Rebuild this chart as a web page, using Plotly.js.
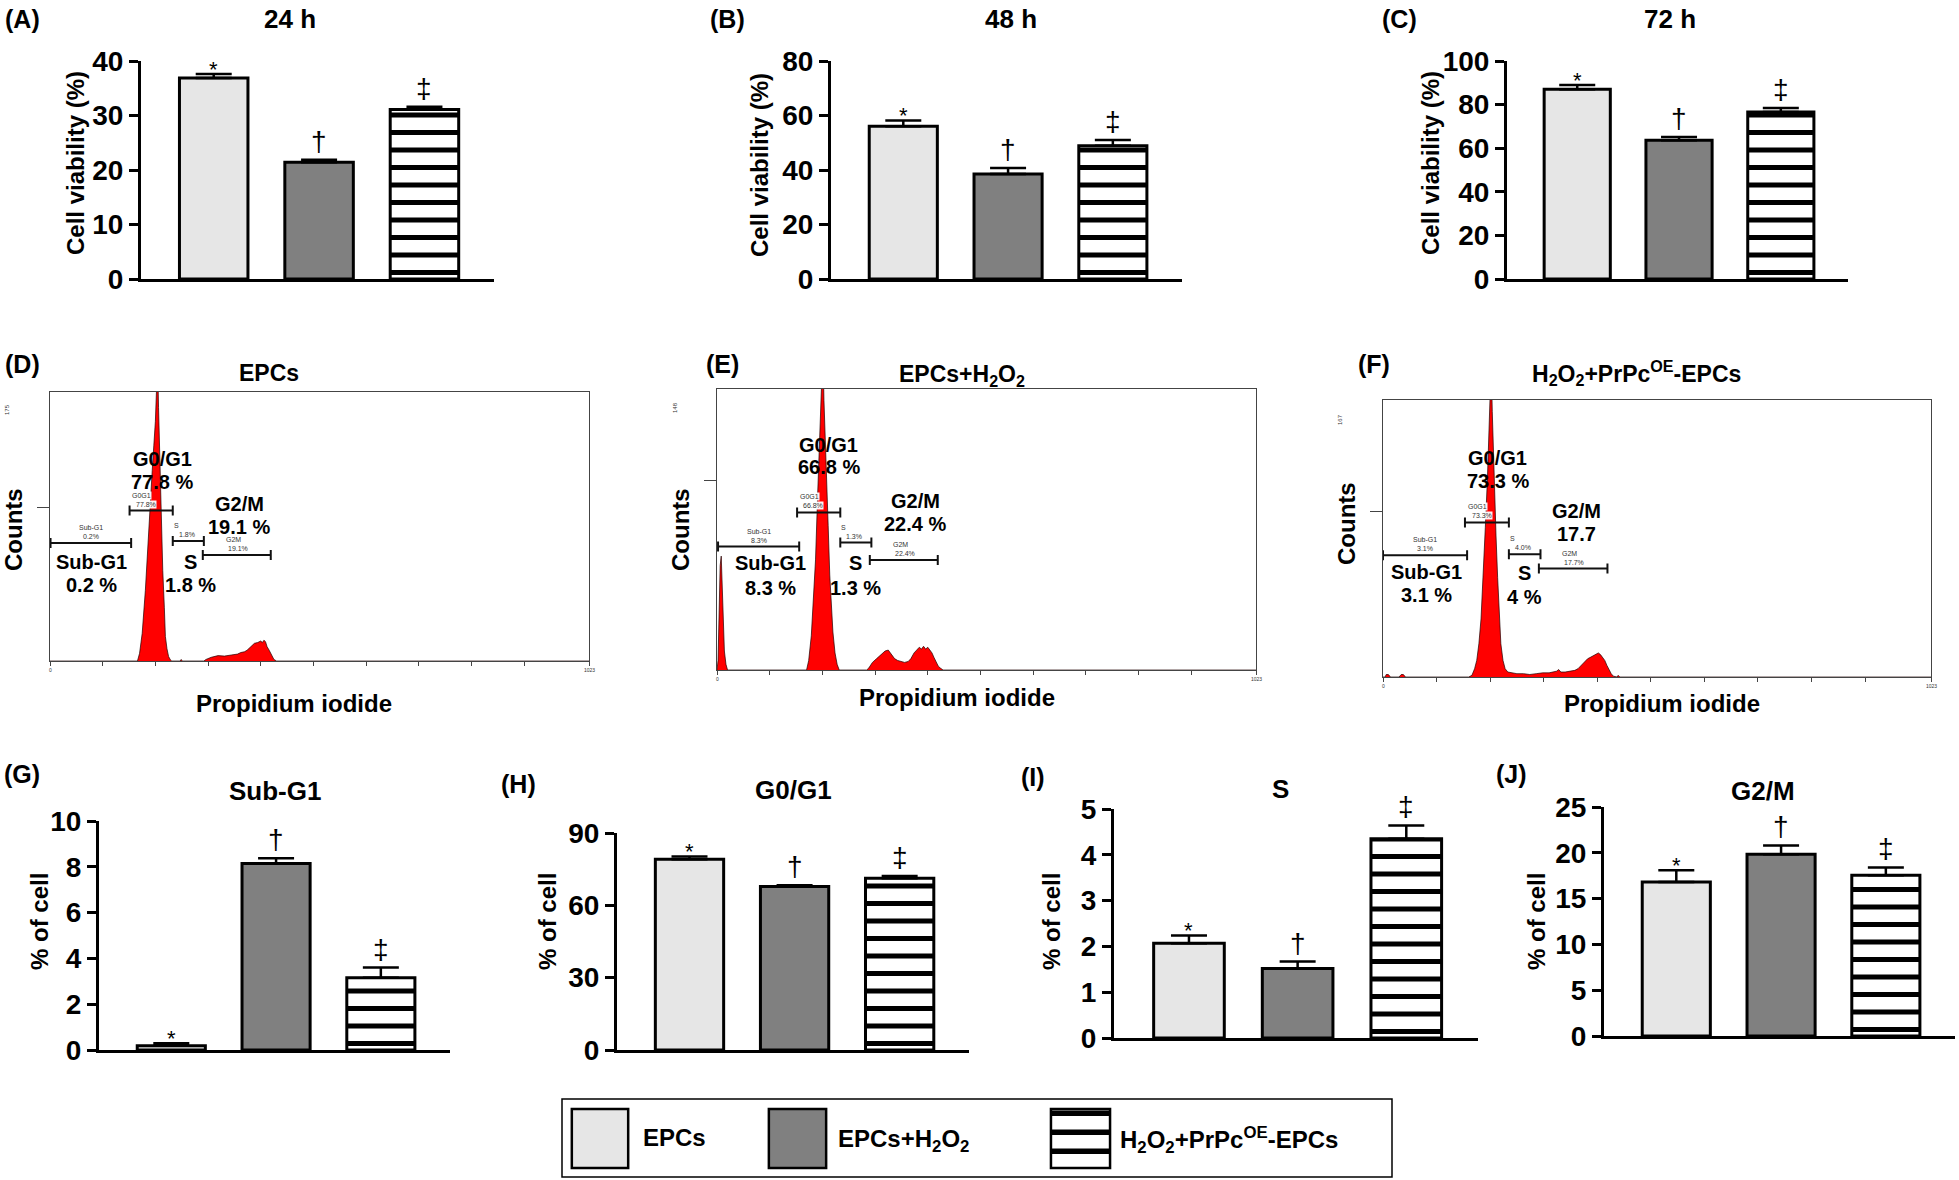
<!DOCTYPE html>
<html><head><meta charset="utf-8">
<script src="https://cdn.plot.ly/plotly-3.0.1.min.js"></script>
<style>html,body{margin:0;padding:0;background:#fff;}#chart{width:1959px;height:1180px;}</style>
</head><body><div id="chart"></div>
<script>
// ================= DATA =================
const groups = ['EPCs', 'EPCs+H<sub>2</sub>O<sub>2</sub>', 'H<sub>2</sub>O<sub>2</sub>+PrPc<sup>OE</sup>-EPCs'];
const sigMarks = ['*', '†', '‡'];

// Cell viability (%)
const viab24 = [36.9, 21.4, 31.1];   const viab24Err = [0.7, 0.5, 0.5];
const viab48 = [56.1, 38.5, 48.9];   const viab48Err = [2.1, 2.2, 2.1];
const viab72 = [87.0, 63.6, 76.6];   const viab72Err = [2.0, 1.5, 1.8];

// Cell cycle (% of cell)
const subG1 = [0.19, 8.14, 3.16];    const subG1Err = [0.10, 0.23, 0.44];
const g0g1  = [79.1, 67.8, 71.2];    const g0g1Err  = [1.2, 0.5, 1.0];
const sPhase = [2.07, 1.52, 4.35];   const sPhaseErr = [0.17, 0.15, 0.29];
const g2m   = [16.8, 19.85, 17.55];  const g2mErr   = [1.3, 0.95, 0.85];

// Flow cytometry histograms (channel, counts)
const histD_ch  = [0,166,170,175,181,187,191,194,197,200,202,204,206,209,212,214,217,219,222,225,228,231,247,249,251,292,296,306,319,331,344,356,362,369,374,378,383,388,394,400,403,406,409,412,416,419,422,425,430,1023];
const histD_cnt = [0,0,5,18,46,85,105,124,140,156,175,200,165,124,88,59,35,16,8,3,1,0,0,1,0,0,1,2.4,3.5,3.2,3.9,4.5,5.5,6,7,8.2,9.5,11.5,12,13,12,13.5,12.6,9.3,7,5,3,1,0,0];
const histE_ch  = [0,2,4,6,8,10,12,14,17,20,170,174,179,183,187,191,194,197,199,201,203,205,208,211,214,217,220,224,228,232,284,288,295,303,311,319,325,331,337,343,349,356,363,368,374,380,384,388,392,396,400,404,408,412,416,420,424,429,1023];
const histE_cnt = [0,5,30,55,60,45,25,10,3,0,0,5,18,35,58,92,115,135,150,170,142,128,100,76,50,32,20,9,3,0,0,1,4,6,8,10,10.5,8,6,5,4.5,4,4.5,6,9,11,12,11,12.5,11,12,10.5,9,6.5,4,2,1,0,0];
const histF_ch  = [0,4,6,10,14,18,30,34,38,42,46,160,166,171,175,179,183,187,191,195,198,200,202,204,206,208,211,214,217,220,224,228,233,240,250,262,274,286,298,310,318,324,328,332,340,350,358,364,370,376,382,388,394,398,402,406,410,414,418,422,426,430,434,437,439,442,1023];
const histF_cnt = [0,0,1.5,1.5,0,0,0,1.5,1.5,0,0,0,1,5,10,20,35,60,90,120,155,175,190,160,135,115,85,60,38,20,10,5,3,2.5,2,2,1.5,2,2.5,2.5,3,3.5,4.5,3,3,3.5,4,5,7,9.5,11,12,13,13.5,14.5,13.5,12,10,7,4.5,2,0.5,0,0,1,0,0];
const histMax = [175, 148, 167];

// Gates (channel start / end, level in counts): Sub-G1, G0G1, S, G2M
const gateNames = ['Sub-G1', 'G0G1', 'S', 'G2M'];
const phaseNames = ['Sub-G1', 'G0/G1', 'S', 'G2/M'];
const gateStartD = [1, 151, 233, 290];   const gateEndD = [154, 233, 292, 419];   const gateLevelD = [76.7, 97.9, 78, 68.9];
const gateStartE = [2, 152, 234, 290];   const gateEndE = [156, 234, 293, 419];   const gateLevelE = [65, 83, 67.1, 58];
const gateStartF = [0, 153, 235, 291];   const gateEndF = [157, 235, 294, 419];   const gateLevelF = [73.4, 93.2, 74, 65.4];
const gatePctD = ['0.2%', '77.8%', '1.8%', '19.1%'];
const gatePctE = ['8.3%', '66.8%', '1.3%', '22.4%'];
const gatePctF = ['3.1%', '73.3%', '4.0%', '17.7%'];
const phasePctD = ['0.2 %', '77.8 %', '1.8 %', '19.1 %'];
const phasePctE = ['8.3 %', '66.8 %', '1.3 %', '22.4 %'];
const phasePctF = ['3.1 %', '73.3 %', '4 %', '17.7'];

const chTickVals = [0,100,200,300,400,500,600,700,800,900,1023];
const chEndLabels = [0, 1023];

// ================= LAYOUT =================
const FONT = 'Liberation Sans, Arial, Helvetica, sans-serif';
const W = 1959, H = 1180;
const traces = [], annotations = [], shapes = [];
const layout = {
  width: W, height: H, margin: {l:0, r:0, t:0, b:0, pad:0},
  paper_bgcolor: '#ffffff', plot_bgcolor: 'rgba(0,0,0,0)',
  showlegend: false, font: {family: FONT, color: '#000'}, barmode: 'overlay'
};
let axisCount = 0;
function newAxes(xpx, ypx) {
  axisCount++;
  const s = axisCount === 1 ? '' : String(axisCount);
  return {xa: 'xaxis' + s, ya: 'yaxis' + s, xr: 'x' + s, yr: 'y' + s,
          xd: [xpx[0] / W, xpx[1] / W], yd: [1 - ypx[1] / H, 1 - ypx[0] / H], hpx: ypx[1] - ypx[0]};
}
function txt(text, xpx, ypx, size, extra) {
  annotations.push(Object.assign({
    text: text, x: xpx / W, y: 1 - ypx / H, xref: 'paper', yref: 'paper', showarrow: false,
    xanchor: 'center', yanchor: 'middle',
    font: {family: FONT, size: size, color: '#000', weight: 700}
  }, extra || {}));
}
// horizontal black stripes drawn inside a bar (value in data units), spacing given in pixels
function addStripes(a, xc, halfW, y0data, value, dataPerPx, periodPx, thickPx, offsetPx) {
  for (let px = offsetPx; y0data + px * dataPerPx < value; px += periodPx) {
    const ya = y0data + px * dataPerPx;
    const yb = Math.min(value, y0data + (px + thickPx) * dataPerPx);
    shapes.push({type: 'rect', xref: a.xr, yref: a.yr, x0: xc - halfW, x1: xc + halfW, y0: ya, y1: yb,
      fillcolor: '#000', line: {width: 0}, layer: 'above'});
  }
}

const fills = ['#e6e6e6', '#808080', '#ffffff'];
const BARW = 0.65;

// ---- bar panels ----
const barPanels = [
  {vals: viab24, errs: viab24Err, ymax: 40, dtick: 10, xpx: [141, 494], ypx: [61, 279],
   label: '(A)', lpos: [22, 19], title: '24 h', tpos: [290, 19], ytitle: 'Cell viability (%)', ytpos: [76, 163]},
  {vals: viab48, errs: viab48Err, ymax: 80, dtick: 20, xpx: [831, 1182], ypx: [61, 279],
   label: '(B)', lpos: [727, 19], title: '48 h', tpos: [1011, 19], ytitle: 'Cell viability (%)', ytpos: [760, 165]},
  {vals: viab72, errs: viab72Err, ymax: 100, dtick: 20, xpx: [1507, 1848], ypx: [61, 279],
   label: '(C)', lpos: [1399, 19], title: '72 h', tpos: [1670, 19], ytitle: 'Cell viability (%)', ytpos: [1431, 163]},
  {vals: subG1, errs: subG1Err, ymax: 10, dtick: 2, xpx: [99, 450], ypx: [821, 1050],
   label: '(G)', lpos: [22, 774], title: 'Sub-G1', tpos: [275, 791], ytitle: '% of cell', ytpos: [39, 922]},
  {vals: g0g1, errs: g0g1Err, ymax: 90, dtick: 30, xpx: [617, 969], ypx: [833, 1050],
   label: '(H)', lpos: [518, 784], title: 'G0/G1', tpos: [793, 790], ytitle: '% of cell', ytpos: [547, 922]},
  {vals: sPhase, errs: sPhaseErr, ymax: 5, dtick: 1, xpx: [1114, 1478], ypx: [809, 1038],
   label: '(I)', lpos: [1033, 777], title: 'S', tpos: [1280, 789], ytitle: '% of cell', ytpos: [1051, 922]},
  {vals: g2m, errs: g2mErr, ymax: 25, dtick: 5, xpx: [1604, 1955], ypx: [807, 1036],
   label: '(J)', lpos: [1511, 774], title: 'G2/M', tpos: [1763, 791], ytitle: '% of cell', ytpos: [1536, 922]}
];

barPanels.forEach(p => {
  const a = newAxes(p.xpx, p.ypx);
  layout[a.xa] = {domain: a.xd, anchor: a.yr, range: [-0.69, 2.66], showline: true, linecolor: '#000', linewidth: 3,
    ticks: '', showticklabels: false, showgrid: false, zeroline: false, fixedrange: true};
  layout[a.ya] = {domain: a.yd, anchor: a.xr, range: [0, p.ymax], tick0: 0, dtick: p.dtick, showline: true,
    linecolor: '#000', linewidth: 3, ticks: 'outside', ticklen: 9, tickwidth: 3, tickcolor: '#000',
    tickfont: {family: FONT, size: 28, color: '#000', weight: 700}, showgrid: false, zeroline: false, fixedrange: true};
  traces.push({
    type: 'bar', x: [0, 1, 2], y: p.vals, width: BARW, xaxis: a.xr, yaxis: a.yr,
    marker: {color: fills, line: {color: '#000', width: 3}},
    error_y: {type: 'data', symmetric: false, array: p.errs, arrayminus: [0, 0, 0], color: '#000', thickness: 2.5, width: 18}
  });
  // stripes of the third (H2O2+PrPc-OE) bar
  addStripes(a, 2, BARW / 2, 0, p.vals[2], p.ymax / a.hpx, 17.5, 5, 4);
  p.vals.forEach((v, i) => {
    const star = sigMarks[i] === '*';
    annotations.push({text: sigMarks[i], x: i, y: v + p.errs[i], xref: a.xr, yref: a.yr, showarrow: false,
      xanchor: 'center', yanchor: 'bottom', yshift: star ? -10 : 1,
      font: {family: FONT, size: star ? 22 : 28, color: '#000', weight: 400}});
  });
  txt(p.label, p.lpos[0], p.lpos[1], 25);
  txt(p.title, p.tpos[0], p.tpos[1], 26);
  txt(p.ytitle, p.ytpos[0], p.ytpos[1], 24, {textangle: -90});
});

// ---- histogram panels ----
const histPanels = [
  {ch: histD_ch, cnt: histD_cnt, ymax: histMax[0], xpx: [50, 589], ypx: [392, 661],
   gs: gateStartD, ge: gateEndD, gl: gateLevelD, gp: gatePctD, pp: phasePctD,
   big: [[78, 64.5, 49.4], [213, 131.7, 116.5], [266, 64.5, 49.4], [359, 102.4, 87.3]],
   label: '(D)', lpos: [22, 364], title: groups[0], tpos: [269, 373], cpos: [13, 530], ppos: [294, 703], mpos: [7, 410]},
  {ch: histE_ch, cnt: histE_cnt, ymax: histMax[1], xpx: [717, 1256], ypx: [389, 670],
   gs: gateStartE, ge: gateEndE, gl: gateLevelE, gp: gatePctE, pp: phasePctE,
   big: [[102, 56.2, 43.4], [212.5, 118.6, 106.9], [263.6, 56.2, 43.4], [376, 88.8, 77]],
   label: '(E)', lpos: [722, 364], title: groups[1], tpos: [962, 375], cpos: [680, 530], ppos: [957, 697], mpos: [675, 408]},
  {ch: histF_ch, cnt: histF_cnt, ymax: histMax[2], xpx: [1383, 1931], ypx: [400, 677],
   gs: gateStartF, ge: gateEndF, gl: gateLevelF, gp: gatePctF, pp: phasePctF,
   big: [[80.7, 63.4, 49.3], [214, 132.2, 118.3], [265, 63, 48.3], [360.6, 100.2, 86.5]],
   label: '(F)', lpos: [1374, 364], title: groups[2], tpos: [1636, 373], cpos: [1346, 524], ppos: [1662, 703], mpos: [1340, 420]}
];
// small gate-label offsets (channel units from gate centre): [name, pct]
const smallOff = [[0, 0], [-18, -10], [-23, -3], [-7, 2]];

histPanels.forEach(h => {
  const a = newAxes(h.xpx, h.ypx);
  layout[a.xa] = {domain: a.xd, anchor: a.yr, range: [0, 1023], showline: true, mirror: true, linecolor: '#444', linewidth: 1,
    ticks: 'outside', ticklen: 4, tickwidth: 1, tickcolor: '#444', tickmode: 'array', tickvals: chTickVals,
    showticklabels: false, showgrid: false, zeroline: false, fixedrange: true};
  layout[a.ya] = {domain: a.yd, anchor: a.xr, range: [0, h.ymax], showline: true, mirror: true, linecolor: '#444', linewidth: 1,
    ticks: 'outside', ticklen: 12, tickwidth: 1, tickcolor: '#444', tickmode: 'array', tickvals: [100],
    showticklabels: false, showgrid: false, zeroline: false, fixedrange: true};
  traces.push({type: 'scatter', mode: 'lines', x: h.ch, y: h.cnt, fill: 'tozeroy', fillcolor: '#ff0000',
    line: {color: '#200000', width: 0.7}, xaxis: a.xr, yaxis: a.yr, hoverinfo: 'skip'});
  const centers = h.gs.map((s, i) => (s + h.ge[i]) / 2);
  const halves = h.gs.map((s, i) => (h.ge[i] - s) / 2);
  traces.push({type: 'scatter', mode: 'markers', x: centers, y: h.gl, xaxis: a.xr, yaxis: a.yr,
    marker: {size: 1, color: 'rgba(0,0,0,0)'},
    error_x: {type: 'data', array: halves, color: '#111', thickness: 2, width: 5}});
  // end labels of the channel axis
  chEndLabels.forEach(v => {
    annotations.push({text: String(v), x: v, y: 0, xref: a.xr, yref: a.yr, showarrow: false, xanchor: 'center', yanchor: 'top',
      yshift: -4, font: {family: FONT, size: 5, color: '#333'}});
  });
  // small gate labels
  gateNames.forEach((g, i) => {
    const white = i === 1 ? 'rgba(255,255,255,0.95)' : 'rgba(0,0,0,0)';
    annotations.push({text: g, x: centers[i] + smallOff[i][0], y: h.gl[i], xref: a.xr, yref: a.yr, showarrow: false,
      xanchor: 'center', yanchor: 'bottom', yshift: 11, bgcolor: white, borderpad: 0,
      font: {family: FONT, size: 7, color: '#333'}});
    annotations.push({text: h.gp[i], x: centers[i] + smallOff[i][1], y: h.gl[i], xref: a.xr, yref: a.yr, showarrow: false,
      xanchor: 'center', yanchor: 'bottom', yshift: 2, bgcolor: white, borderpad: 0,
      font: {family: FONT, size: 7, color: '#333'}});
  });
  // big phase labels
  phaseNames.forEach((n, i) => {
    const b = h.big[i];
    annotations.push({text: n, x: b[0], y: b[1], xref: a.xr, yref: a.yr, showarrow: false, xanchor: 'center', yanchor: 'middle',
      font: {family: FONT, size: 20, color: '#000', weight: 700}});
    annotations.push({text: h.pp[i], x: b[0], y: b[2], xref: a.xr, yref: a.yr, showarrow: false, xanchor: 'center', yanchor: 'middle',
      font: {family: FONT, size: 20, color: '#000', weight: 700}});
  });
  txt(h.label, h.lpos[0], h.lpos[1], 25);
  txt(h.title, h.tpos[0], h.tpos[1], 23);
  txt('Counts', h.cpos[0], h.cpos[1], 24, {textangle: -90});
  txt('Propidium iodide', h.ppos[0], h.ppos[1], 24);
  txt(String(h.ymax), h.mpos[0], h.mpos[1], 6, {textangle: -90, font: {family: FONT, size: 6, color: '#333'}});
});

// ---- legend (three mini bar axes inside a framed box) ----
const legendSwatchPx = [[569, 631], [766, 829], [1048, 1113]];
const legendTextX = [641, 836, 1118];
shapes.push({type: 'rect', xref: 'paper', yref: 'paper', x0: 562 / W, x1: 1392 / W, y0: 1 - 1177 / H, y1: 1 - 1099 / H,
  line: {color: '#000', width: 1.5}, fillcolor: 'rgba(0,0,0,0)'});
groups.forEach((g, i) => {
  const a = newAxes(legendSwatchPx[i], [1106, 1171]);
  layout[a.xa] = {domain: a.xd, anchor: a.yr, range: [-0.55, 0.55], visible: false, fixedrange: true};
  layout[a.ya] = {domain: a.yd, anchor: a.xr, range: [-0.05, 1.05], visible: false, fixedrange: true};
  traces.push({type: 'bar', x: [0], y: [1], width: 1, xaxis: a.xr, yaxis: a.yr,
    marker: {color: fills[i], line: {color: '#000', width: 2.5}}});
  if (i === 2) addStripes(a, 0, 0.5, 0, 1, 1.1 / a.hpx, 19, 5.5, 14);
  txt(g, legendTextX[i], i === 0 ? 1137 : 1140, 24, {xanchor: 'left'});
});

layout.annotations = annotations;
layout.shapes = shapes;
Plotly.newPlot('chart', traces, layout, {displayModeBar: false, staticPlot: true});
</script>
</body></html>
